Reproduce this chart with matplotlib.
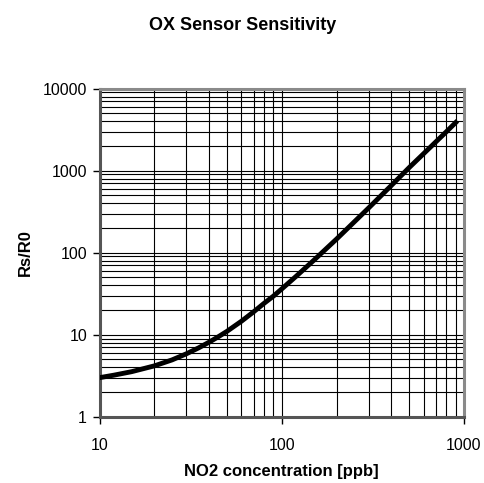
import matplotlib.pyplot as plt
from matplotlib.ticker import LogLocator, FixedLocator, NullFormatter

plt.rcParams['font.family'] = ['Liberation Sans', 'DejaVu Sans']

# NO2 concentration [ppb] vs Rs/R0
no2_ppb = [10, 12, 15, 20, 25, 30, 35, 40, 45, 50, 60, 70, 80, 90, 100,
           120, 150, 200, 300, 400, 500, 600, 700, 800, 920]
rs_r0 = [3.0, 3.22, 3.55, 4.18, 4.94, 5.87, 6.93, 8.14, 9.5, 11.0, 14.6, 19.0, 24.2, 29.6, 36.2,
         51.7, 81, 147, 352, 663, 1090, 1610, 2240, 2980, 4050]

x_ticks = [10, 100, 1000]
y_ticks = [1, 10, 100, 1000, 10000]

fig = plt.figure(figsize=(4.85, 4.83), dpi=100)
ax = fig.add_axes([0.2052, 0.137, 0.7515, 0.6795])

ax.plot(no2_ppb, rs_r0, color='black', lw=3.5, solid_capstyle='butt',
        solid_joinstyle='round', zorder=3)

ax.set_xscale('log')
ax.set_yscale('log')
ax.set_xlim(10, 1000)
ax.set_ylim(1, 10000)

ax.xaxis.set_major_locator(FixedLocator(x_ticks))
ax.yaxis.set_major_locator(FixedLocator(y_ticks))
ax.set_xticklabels([str(v) for v in x_ticks])
ax.set_yticklabels([str(v) for v in y_ticks])
ax.xaxis.set_minor_locator(LogLocator(base=10, subs=range(2, 10)))
ax.yaxis.set_minor_locator(LogLocator(base=10, subs=range(2, 10)))
ax.xaxis.set_minor_formatter(NullFormatter())
ax.yaxis.set_minor_formatter(NullFormatter())

ax.grid(True, which='both', color='black', lw=0.8)
ax.tick_params(which='major', direction='out', length=5, width=1, labelsize=11.5)
ax.tick_params(which='minor', length=0)
ax.tick_params(axis='x', pad=10)
ax.tick_params(axis='y', pad=4)

for side in ['top', 'right']:
    ax.spines[side].set_color('#8a8a8a')
    ax.spines[side].set_linewidth(2.2)
for side in ['left', 'bottom']:
    ax.spines[side].set_color('#555555')
    ax.spines[side].set_linewidth(2.2)

ax.set_xlabel('NO2 concentration [ppb]', fontsize=12, fontweight='bold', labelpad=8)
ax.set_ylabel('Rs/R0', fontsize=12, fontweight='bold', labelpad=7)
fig.suptitle('OX Sensor Sensitivity', x=0.5, y=0.965, fontsize=13, fontweight='bold')

fig.savefig('out.png', dpi=100)
